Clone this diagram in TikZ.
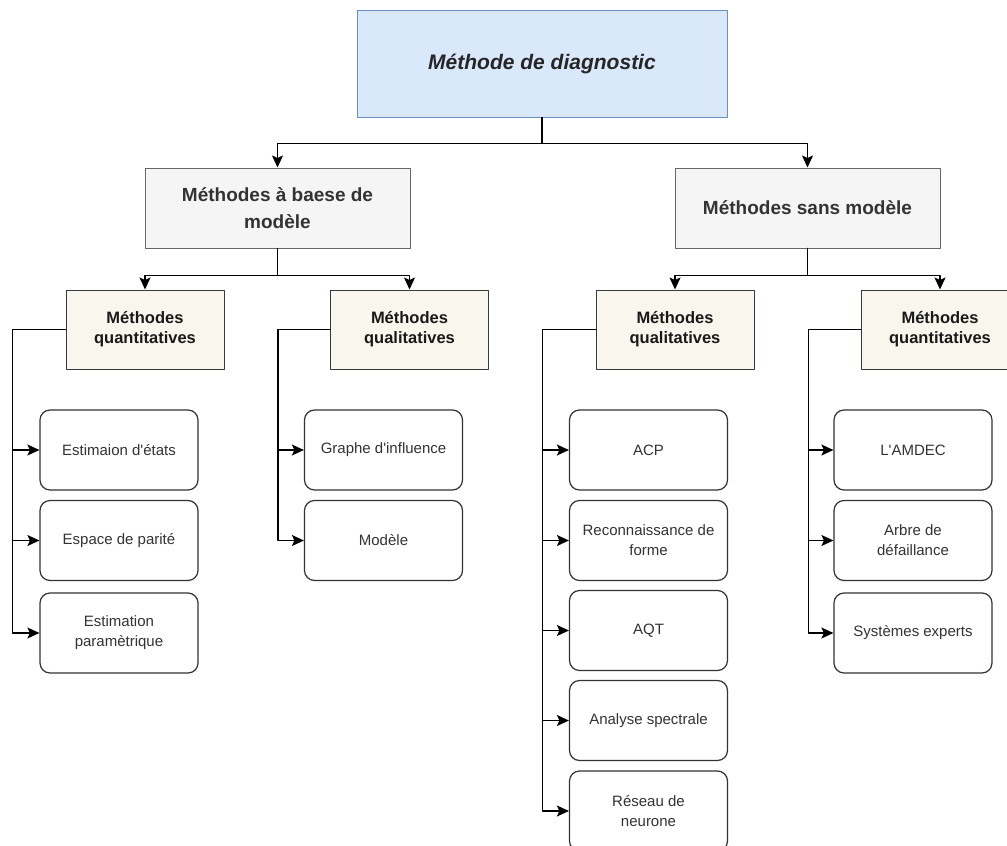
\documentclass[tikz,border=0pt]{standalone}
\usepackage{fontspec}
\setmainfont{Liberation Sans}
\usetikzlibrary{arrows.meta}
\definecolor{topfill}{HTML}{DAE8FC}
\definecolor{topline}{HTML}{6C8EBF}
\definecolor{grisfill}{HTML}{F5F5F5}
\definecolor{grisline}{HTML}{666666}
\definecolor{beigefill}{HTML}{F9F7ED}
\definecolor{beigeline}{HTML}{36393D}
\definecolor{texte}{HTML}{333333}
\begin{document}
\begin{tikzpicture}[x=1pt,y=-1pt,line cap=round,line join=round,
  racine/.style={draw=topline,fill=topfill,line width=1pt,minimum width=370pt,minimum height=107pt,
    font=\bfseries\itshape\fontsize{21}{25}\selectfont,text=black!85},
  famille/.style={draw=grisline,fill=grisfill,line width=1pt,minimum width=265pt,minimum height=80pt,
    align=center,font=\bfseries\fontsize{19}{27}\selectfont,text=texte},
  classe/.style={draw=beigeline,fill=beigefill,line width=1pt,minimum width=158pt,minimum height=79pt,
    align=center,font=\bfseries\fontsize{16.5}{20}\selectfont,text=black!90},
  feuille/.style={draw=texte,fill=white,line width=1.2pt,rounded corners=10pt,minimum width=158pt,
    minimum height=80pt,align=center,font=\fontsize{15}{20}\selectfont,text=texte},
  lien/.style={line width=1.3pt,-{Stealth[length=12pt,width=11pt,inset=2.5pt]}}]
\useasboundingbox (0,0) rectangle (1007,846);
\node[racine] (diag) at (542,63.5) {Méthode de diagnostic};
\node[famille] (avec) at (277.5,208) {Méthodes à baese de\\modèle};
\node[famille] (sans) at (807.5,208) {Méthodes sans modèle};
\node[classe] (aquant) at (145,329.5) {Méthodes\\quantitatives};
\node[classe] (aqual) at (409.5,329.5) {Méthodes\\qualitatives};
\node[classe] (squal) at (675,329.5) {Méthodes\\qualitatives};
\node[classe] (squant) at (940,329.5) {Méthodes\\quantitatives};
\node[feuille] (etat) at (119,450) {Estimaion d\textquotesingle états};
\node[feuille] (parite) at (119,540.5) {Espace de parité};
\node[feuille] (param) at (119,633) {Estimation\\paramètrique};
\node[feuille] (graphe) at (383.5,450) {Graphe d\textquotesingle influence};
\node[feuille] (modele) at (383.5,540.5) {Modèle};
\node[feuille] (acp) at (648.5,450) {ACP};
\node[feuille] (forme) at (648.5,540.5) {Reconnaissance de\\forme};
\node[feuille] (aqt) at (648.5,630.5) {AQT};
\node[feuille] (spectre) at (648.5,720.5) {Analyse spectrale};
\node[feuille] (neurone) at (648.5,811) {Réseau de\\neurone};
\node[feuille] (amdec) at (913,450) {L\textquotesingle AMDEC};
\node[feuille] (arbre) at (913,540.5) {Arbre de\\défaillance};
\node[feuille] (expert) at (913,633) {Systèmes experts};
\draw[lien] (diag.south) -- ++(0,26) -| (avec.north);
\draw[lien] (diag.south) -- ++(0,26) -| (sans.north);
\draw[lien] (avec.south) -- ++(0,27) -| (aquant.north);
\draw[lien] (avec.south) -- ++(0,27) -| (aqual.north);
\draw[lien] (sans.south) -- ++(0,27) -| (squal.north);
\draw[lien] (sans.south) -- ++(0,27) -| (squant.north);
\foreach \f in {etat,parite,param}
  \draw[lien] (aquant.west) -- ++(-53,0) |- (\f.west);
\foreach \f in {graphe,modele}
  \draw[lien] (aqual.west) -- ++(-52,0) |- (\f.west);
\foreach \f in {acp,forme,aqt,spectre,neurone}
  \draw[lien] (squal.west) -- ++(-53,0) |- (\f.west);
\foreach \f in {amdec,arbre,expert}
  \draw[lien] (squant.west) -- ++(-52,0) |- (\f.west);
\end{tikzpicture}
\end{document}
